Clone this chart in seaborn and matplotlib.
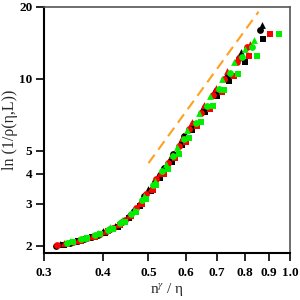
import numpy as np
import pandas as pd
import matplotlib
matplotlib.use("Agg")
import matplotlib.pyplot as plt
import seaborn as sns
from matplotlib.ticker import FixedLocator, FixedFormatter, NullLocator

# ---- data ----
bk_o_x = [0.318,0.34,0.365,0.39,0.415,0.44,0.465,0.49,0.515,0.54,0.565,0.595,0.625,0.66,0.70,0.74,0.78,0.865]
bk_o_y = [2.00,2.06,2.14,2.22,2.35,2.52,2.80,3.22,3.72,4.22,4.85,5.75,6.5,7.65,9.0,10.5,12.2,16.0]
bk_t_x = [0.325,0.35,0.375,0.40,0.425,0.45,0.475,0.50,0.525,0.555,0.585,0.615,0.65,0.69,0.73,0.785,0.87]
bk_t_y = [2.03,2.10,2.18,2.30,2.43,2.64,2.98,3.45,3.95,4.65,5.55,6.45,7.5,8.9,10.4,13.0,16.8]
bk_s_x = [0.33,0.355,0.38,0.405,0.43,0.455,0.48,0.505,0.53,0.56,0.59,0.62,0.66,0.70,0.74,0.80,0.877]
bk_s_y = [2.02,2.09,2.17,2.27,2.41,2.62,2.94,3.38,3.85,4.5,5.3,6.1,7.3,8.5,9.8,11.8,14.7]
rd_o_x = [0.32,0.345,0.37,0.395,0.42,0.445,0.47,0.495,0.52,0.55,0.58,0.61,0.645,0.685,0.725,0.77,0.81]
rd_o_y = [2.01,2.08,2.16,2.25,2.38,2.57,2.87,3.3,3.8,4.45,5.25,6.15,7.2,8.55,10.0,11.8,13.6]
rd_t_x = [0.33,0.355,0.38,0.405,0.43,0.455,0.48,0.505,0.53,0.56,0.59,0.62,0.655,0.695,0.735,0.775,0.82]
rd_t_y = [2.05,2.12,2.2,2.32,2.48,2.7,3.05,3.5,4.05,4.8,5.65,6.6,7.8,9.2,10.8,12.4,14.0]
rd_s_x = [0.335,0.36,0.385,0.41,0.435,0.46,0.485,0.51,0.54,0.57,0.60,0.635,0.675,0.715,0.76,0.817,0.907]
rd_s_y = [2.03,2.1,2.19,2.3,2.45,2.68,3.0,3.42,4.0,4.65,5.45,6.35,7.5,8.8,10.3,12.5,15.4]
gr_o_x = [0.335,0.36,0.385,0.41,0.435,0.46,0.485,0.51,0.535,0.565,0.595,0.63,0.665,0.705,0.745,0.79,0.83]
gr_o_y = [2.06,2.13,2.22,2.34,2.5,2.72,3.1,3.58,4.1,4.75,5.6,6.55,7.7,9.1,10.6,12.3,13.6]
gr_t_x = [0.34,0.365,0.39,0.415,0.44,0.465,0.49,0.515,0.545,0.575,0.605,0.64,0.675,0.715,0.76,0.80,0.84]
gr_t_y = [2.09,2.16,2.26,2.39,2.57,2.84,3.25,3.75,4.4,5.2,6.1,7.2,8.5,10.0,11.8,13.3,14.6]
gr_s_x = [0.345,0.37,0.395,0.42,0.445,0.47,0.495,0.52,0.55,0.58,0.61,0.645,0.685,0.725,0.775,0.85,0.949]
gr_s_y = [2.07,2.15,2.24,2.36,2.52,2.78,3.15,3.6,4.2,4.85,5.65,6.6,7.7,9.0,10.5,12.5,15.4]

guide_x = [0.5, 0.857]
guide_y = [4.44, 19.1]

x_ticks = [0.3, 0.4, 0.5, 0.6, 0.7, 0.8, 0.9, 1.0]
x_labels = ["0.3", "0.4", "0.5", "0.6", "0.7", "0.8", "0.9", "1.0"]
y_ticks = [2, 3, 4, 5, 10, 20]
y_labels = ["2", "3", "4", "5", "10", "20"]

series = [
    (bk_o_x, bk_o_y, "black", "o"), (bk_t_x, bk_t_y, "black", "^"), (bk_s_x, bk_s_y, "black", "s"),
    (rd_o_x, rd_o_y, "#ff0000", "o"), (rd_t_x, rd_t_y, "#ff0000", "^"), (rd_s_x, rd_s_y, "#ff0000", "s"),
    (gr_o_x, gr_o_y, "#00ee00", "o"), (gr_t_x, gr_t_y, "#00ee00", "^"), (gr_s_x, gr_s_y, "#00ee00", "s"),
]

sns.set_style("white")
plt.rcParams["font.family"] = ["Liberation Serif", "DejaVu Serif"]
plt.rcParams["mathtext.fontset"] = "stix"

fig = plt.figure(figsize=(3, 3), dpi=100)
ax = fig.add_axes([0.147, 0.157, 0.82, 0.82])

for xs, ys, c, m in series:
    sns.scatterplot(x=xs, y=ys, color=c, marker=m, s=24, linewidth=0, ax=ax, zorder=3)

sns.lineplot(x=guide_x, y=guide_y, color="#ffa020", linestyle=(0, (5, 3)), linewidth=1.5, ax=ax, zorder=2)

ax.set_xscale("log")
ax.set_yscale("log")
ax.set_xlim(0.3, 1.0)
ax.set_ylim(1.87, 20)

ax.xaxis.set_major_locator(FixedLocator(x_ticks))
ax.xaxis.set_major_formatter(FixedFormatter(x_labels))
ax.xaxis.set_minor_locator(NullLocator())
ax.yaxis.set_major_locator(FixedLocator(y_ticks))
ax.yaxis.set_major_formatter(FixedFormatter(y_labels))
ax.yaxis.set_minor_locator(NullLocator())

ax.tick_params(axis="both", which="major", direction="out", length=5.5, width=1.2,
               labelsize=9.5, colors="black", bottom=True, left=True, top=False, right=False)
ax.tick_params(axis="x", pad=5)
ax.tick_params(axis="y", pad=3)
for lab in ax.get_xticklabels() + ax.get_yticklabels():
    lab.set_fontweight("bold")

for side in ["left", "bottom"]:
    ax.spines[side].set_color("black")
    ax.spines[side].set_linewidth(1.5)
for side in ["top", "right"]:
    ax.spines[side].set_color("#555555")
    ax.spines[side].set_linewidth(1.2)

ax.set_xlabel(r"n$^{\gamma}$ / η", fontsize=11)
ax.set_ylabel("ln (1/ρ(η,L))", fontsize=11.5)
ax.xaxis.set_label_coords(0.5, -0.115)
ax.yaxis.set_label_coords(-0.105, 0.5)

fig.savefig("out.png", dpi=100)
